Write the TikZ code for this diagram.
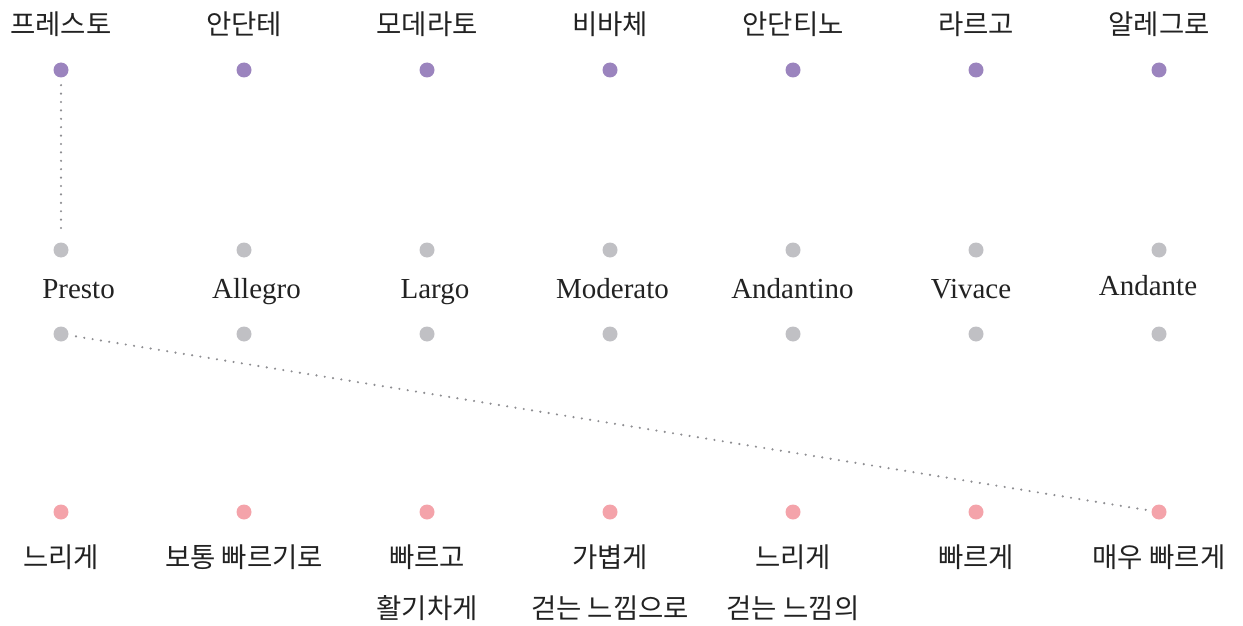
\documentclass[tikz,border=0pt]{standalone}
\usepackage{fontspec}
\setmainfont{Liberation Serif}
\newfontfamily\kor{Noto Sans CJK KR}
\definecolor{cpurple}{HTML}{9B84BE}
\definecolor{cgrey}{HTML}{C0C0C4}
\definecolor{cpink}{HTML}{F4A3AA}
\definecolor{cline}{HTML}{8E8E92}
\definecolor{ctext}{HTML}{222222}
\begin{document}
\begin{tikzpicture}[x=1pt,y=-1pt,
  dotp/.style={circle,fill=cpurple,minimum size=15pt,inner sep=0pt},
  dotg/.style={circle,fill=cgrey,minimum size=15pt,inner sep=0pt},
  dotk/.style={circle,fill=cpink,minimum size=15pt,inner sep=0pt},
  kl/.style={font=\kor\fontsize{27.5}{30}\selectfont,text=ctext,inner sep=0pt,align=center},
  ll/.style={font=\fontsize{29}{32}\selectfont,text=ctext,inner sep=0pt,anchor=base},
  conn/.style={draw=cline,line width=2.4pt,dash pattern=on 0pt off 8.4pt,line cap=round}]
\useasboundingbox (0,0) rectangle (1243,626);
\foreach \i/\x/\k in {1/61/프레스토,2/244/안단테,3/427/모데라토,4/610/비바체,5/793/안단티노,6/976/라르고,7/1159/알레그로} {
  \node[kl] (k\i) at (\x,24) {\k};
  \node[dotp] (t\i) at (\x,70) {};
  \node[dotg] (ga\i) at (\x,250) {};
  \node[dotg] (gb\i) at (\x,334) {};
  \node[dotk] (p\i) at (\x,512) {};
}
\node[ll] (l1) at (78.5,298) {Presto};
\node[ll] (l2) at (256.5,298) {Allegro};
\node[ll] (l3) at (435,298) {Largo};
\node[ll] (l4) at (612.5,298) {Moderato};
\node[ll] (l5) at (792.5,298) {Andantino};
\node[ll] (l6) at (971,298) {Vivace};
\node[ll] (l7) at (1148,295) {Andante};
\node[kl] (m1) at (61,557) {느리게};
\node[kl] (m2) at (244,557) {보통 빠르기로};
\node[kl] (m3) at (427,557) {빠르고};
\node[kl] (n3) at (427,608) {활기차게};
\node[kl] (m4) at (610,557) {가볍게};
\node[kl] (n4) at (610,608) {걷는 느낌으로};
\node[kl] (m5) at (793,557) {느리게};
\node[kl] (n5) at (793,608) {걷는 느낌의};
\node[kl] (m6) at (976,557) {빠르게};
\node[kl] (m7) at (1159,557) {매우 빠르게};
\draw[conn,shorten <=7.5pt,shorten >=10.5pt] (t1) -- (ga1);
\draw[conn,shorten <=7.5pt,shorten >=4pt] (gb1) -- (p7);
\end{tikzpicture}
\end{document}
